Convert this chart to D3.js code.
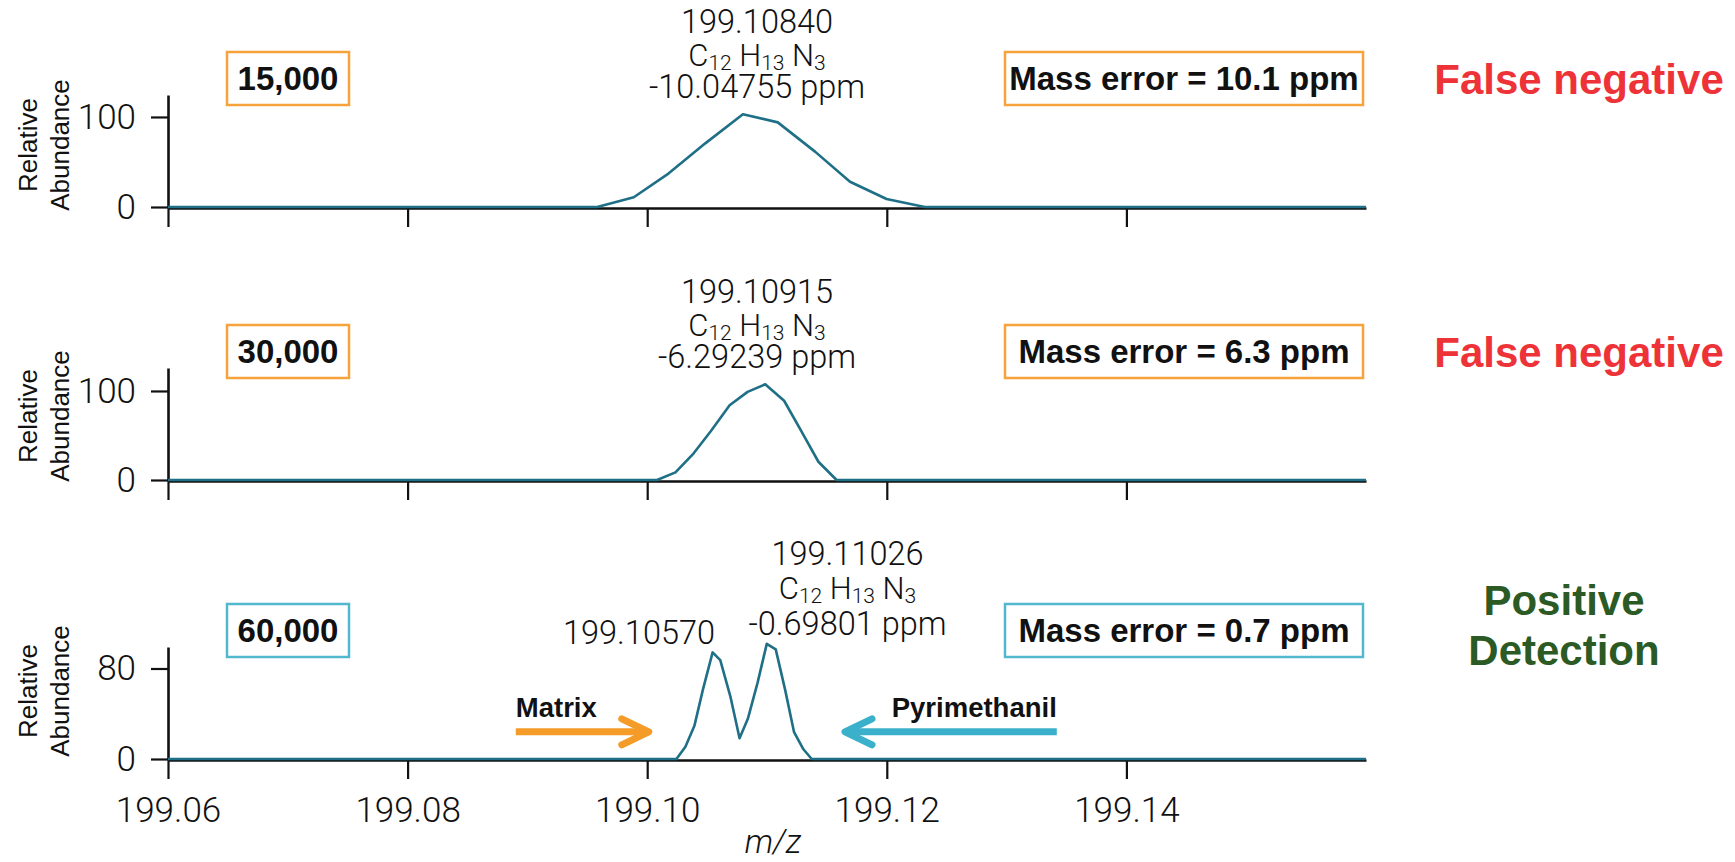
<!DOCTYPE html>
<html><head><meta charset="utf-8">
<script src="https://cdn.jsdelivr.net/npm/d3@7"></script>
<style>
body{margin:0;background:#fff}
svg{display:block}
text{font-family:"Liberation Sans",Arial,Helvetica,sans-serif}
.light{font-family:Roboto,"Liberation Sans",sans-serif;font-weight:300}
</style>
</head><body>
<svg id="chart" width="1735" height="862"></svg>
<script>
// ---------- data ----------
const xDomain = [199.06, 199.16];
const xTicks = [199.06, 199.08, 199.10, 199.12, 199.14];

const resolutions = ["15,000", "30,000", "60,000"];
const massErrors = ["Mass error = 10.1 ppm", "Mass error = 6.3 ppm", "Mass error = 0.7 ppm"];
const verdicts = [["False negative"], ["False negative"], ["Positive", "Detection"]];
const yTickValues = [[0, 100], [0, 100], [0, 80]];
const yMaxes = [124.4, 125.8, 99];

const peakMz = ["199.10840", "199.10915", "199.11026"];
const peakPpm = ["-10.04755 ppm", "-6.29239 ppm", "-0.69801 ppm"];
const formula = [["C", "12"], ["H", "13"], ["N", "3"]];
const matrixPeakLabel = "199.10570";

const mz15k = [199.06, 199.09583, 199.09888, 199.10180, 199.10485, 199.10799, 199.11090, 199.11401, 199.11693, 199.11998, 199.12317, 199.16];
const ab15k = [0, 0, 10.8, 37.4, 70.7, 103, 94, 61.5, 28, 8.9, 0, 0];

const mz30k = [199.06, 199.10082, 199.10236, 199.10388, 199.10532, 199.10688, 199.10838, 199.10985, 199.11143, 199.11290, 199.11429, 199.11581, 199.16];
const ab30k = [0, 0, 8.6, 30, 55, 84, 99, 107.5, 89, 54, 20.5, 0, 0];

const mz60k = [199.06, 199.10244, 199.10319, 199.10394, 199.10465, 199.10546, 199.10610, 199.10694, 199.10771, 199.10840, 199.10921, 199.10998, 199.11073, 199.11151, 199.11226, 199.11304, 199.11373, 199.16];
const ab60k = [0, 0, 10.9, 29.3, 61.3, 94.2, 87.4, 55.4, 18.4, 35.5, 67.3, 101.8, 96.9, 61.3, 23.7, 8.6, 0, 0];

const arrowLabels = ["Matrix", "Pyrimethanil"];
const arrowMz = [[199.08903, 199.10013], [199.13419, 199.11651]]; // [tail, tip]
const arrowAbundance = 24;
const arrowLabelAbundance = 37.4;

// ---------- layout ----------
const series = [d3.zip(mz15k, ab15k), d3.zip(mz30k, ab30k), d3.zip(mz60k, ab60k)];
const zeroY = [207, 480, 759];
const plotH = 112;
const yTitleOffset = [62, 64, 68];
const annBase = [[-174, -141, -109], [-177, -144, -112], [-194, -160, -124]];
const annX = [757, 757, 847.5];
const verdictX = [1579, 1579, 1564];

const col = {
  line: "#1F6F86", axis: "#111", text: "#111",
  orange: "#F59B28", orangeBox: "#F7A33C",
  cyan: "#3BB0CA", cyanBox: "#52B8CE",
  red: "#EE3338", green: "#2B5A25"
};

const svg = d3.select("#chart");
const x = d3.scaleLinear().domain(xDomain).range([168, 1366]);

series.forEach((data, i) => {
  const z = zeroY[i];
  const y = d3.scaleLinear().domain([0, yMaxes[i]]).range([z, z - plotH]);
  const g = svg.append("g");

  // x axis
  const xa = g.append("g").attr("transform", `translate(0,${z + 1})`)
    .call(d3.axisBottom(x).tickValues(xTicks).tickSize(19).tickSizeOuter(0)
      .tickFormat(i === 2 ? d3.format(".2f") : ""));
  xa.select(".domain").attr("stroke", col.axis).attr("stroke-width", 2.6);
  xa.selectAll(".tick line").attr("stroke", col.axis).attr("stroke-width", 2.2);
  xa.selectAll("text").attr("class", "light").attr("font-size", 35).attr("fill", col.text)
    .attr("y", 62).attr("dy", 0);

  // y axis
  const ya = g.append("g").attr("transform", `translate(168,0)`)
    .call(d3.axisLeft(y).tickValues(yTickValues[i]).tickSize(17).tickPadding(15).tickSizeOuter(0));
  ya.select(".domain").attr("stroke", col.axis).attr("stroke-width", 2.6);
  ya.selectAll(".tick line").attr("stroke", col.axis).attr("stroke-width", 2.2);
  ya.selectAll("text").attr("class", "light").attr("font-size", 35).attr("fill", col.text);

  // y title
  const yt = g.append("text").attr("transform", `translate(0,${z - yTitleOffset[i]}) rotate(-90)`)
    .attr("text-anchor", "middle").attr("font-size", 26).attr("fill", col.text);
  yt.append("tspan").attr("x", 0).attr("y", 37).text("Relative");
  yt.append("tspan").attr("x", 0).attr("y", 69).text("Abundance");

  // spectrum
  g.append("path").datum(data)
    .attr("d", d3.line().x(d => x(d[0])).y(d => y(d[1])))
    .attr("fill", "none").attr("stroke", col.line).attr("stroke-width", 2.6)
    .attr("stroke-linejoin", "round");

  // boxes
  const boxTop = z - 155, boxH = 53;
  const boxCol = i === 2 ? col.cyanBox : col.orangeBox;
  [[227, 349, resolutions[i]], [1005, 1363, massErrors[i]]].forEach(([x0, x1, t]) => {
    g.append("rect").attr("x", x0).attr("y", boxTop).attr("width", x1 - x0).attr("height", boxH)
      .attr("fill", "#fff").attr("stroke", boxCol).attr("stroke-width", 2.5);
    g.append("text").attr("x", (x0 + x1) / 2).attr("y", boxTop + 38).attr("text-anchor", "middle")
      .attr("font-size", 33).attr("font-weight", "bold").attr("fill", col.text)
      .text(t);
  });

  // verdict
  const vt = g.append("text").attr("text-anchor", "middle").attr("font-size", 42)
    .attr("font-weight", "bold").attr("fill", i === 2 ? col.green : col.red);
  if (verdicts[i].length === 1) {
    vt.append("tspan").attr("x", verdictX[i]).attr("y", z - 113).text(verdicts[i][0]);
  } else {
    vt.append("tspan").attr("x", verdictX[i]).attr("y", z - 144).text(verdicts[i][0]);
    vt.append("tspan").attr("x", verdictX[i]).attr("y", z - 94).text(verdicts[i][1]);
  }

  // peak annotation (three lines)
  const ax = annX[i];
  const at = g.append("text").attr("class", "light").attr("text-anchor", "middle")
    .attr("font-size", 32.5).attr("fill", col.text);
  at.append("tspan").attr("x", ax).attr("y", z + annBase[i][0]).text(peakMz[i]);
  formula.forEach(([el, n], k) => {
    const t = at.append("tspan").attr("font-size", 31).text((k === 0 ? "" : " ") + el);
    if (k === 0) t.attr("x", ax).attr("y", z + annBase[i][1]);
    else t.attr("dy", -4);
    at.append("tspan").attr("font-size", 21).attr("dy", 4).text(n);
  });
  at.append("tspan").attr("x", ax).attr("y", z + annBase[i][2]).text(peakPpm[i]);

  if (i === 2) {
    g.append("text").attr("class", "light").attr("x", 639).attr("y", z - 115)
      .attr("text-anchor", "middle").attr("font-size", 32.5).attr("fill", col.text).text(matrixPeakLabel);

    const arrowCols = [col.orange, col.cyan];
    arrowMz.forEach(([tail, tip], k) => {
      const yA = y(arrowAbundance), xt = x(tip), xs = x(tail);
      const dir = Math.sign(xt - xs);
      g.append("line").attr("x1", xs).attr("x2", xt - dir * 2).attr("y1", yA).attr("y2", yA)
        .attr("stroke", arrowCols[k]).attr("stroke-width", 7);
      g.append("polyline")
        .attr("points", `${xt - dir * 27},${yA - 13} ${xt},${yA} ${xt - dir * 27},${yA + 13}`)
        .attr("fill", "none").attr("stroke", arrowCols[k]).attr("stroke-width", 7)
        .attr("stroke-linecap", "round").attr("stroke-linejoin", "round");
      g.append("text").attr("x", xs).attr("y", y(arrowLabelAbundance))
        .attr("text-anchor", k === 0 ? "start" : "end").attr("font-size", 27.5)
        .attr("font-weight", "bold").attr("fill", col.text)
        .text(arrowLabels[k]);
    });

    g.append("text").attr("class", "light").attr("x", 773).attr("y", 853)
      .attr("text-anchor", "middle").attr("font-size", 33).attr("font-style", "italic")
      .attr("fill", col.text).text("m/z");
  }
});
</script>
</body></html>
